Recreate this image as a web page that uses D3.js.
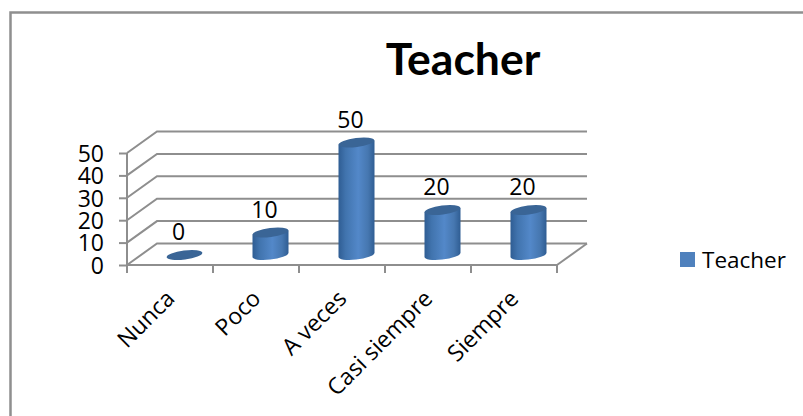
<!DOCTYPE html>
<html><head><meta charset="utf-8">
<script src="https://cdn.jsdelivr.net/npm/d3@7"></script>
<style>html,body{margin:0;padding:0;background:#fff}svg{display:block}text{font-family:"Open Sans",sans-serif;fill:#000}</style>
</head><body><svg id="c" width="803" height="416"></svg>
<script>
const categories = ["Nunca","Poco","A veces","Casi siempre","Siempre"];
const seriesName = "Teacher";
const values = [0,10,50,20,20];
const yTicks = [0,10,20,30,40,50];

const svg = d3.select("#c");
const depthX = 30, depthY = -21.5, gridCol = "#8e8e8e";
const x = d3.scaleBand().domain(categories).range([127,557]);
const y = d3.scaleLinear().domain([0,50]).range([265,153]);
const barY = d3.scaleLinear().domain([0,50]).range([255,142.5]);

const defs = svg.append("defs");
const g = defs.append("linearGradient").attr("id","cyl");
[[0,"#2f5d93"],[.2,"#4174ae"],[.55,"#5388c9"],[.82,"#4677b0"],[1,"#2f5d93"]]
  .forEach(([o,c])=>g.append("stop").attr("offset",o).attr("stop-color",c));

// outer chart frame
svg.append("path").attr("d","M10.5,416V12.5H803").attr("fill","none").attr("stroke","#8f8f8f").attr("stroke-width",2.5);

// walls
const grid = svg.append("g").attr("fill","none").attr("stroke",gridCol).attr("stroke-width",2);
yTicks.forEach(t=>{
  grid.append("path").attr("d",d3.line()([[x.range()[0],y(t)],[x.range()[0]+depthX,y(t)+depthY],[x.range()[1]+depthX,y(t)+depthY]]));
});
grid.append("path").attr("d",d3.line()([[x.range()[1],y(0)],[x.range()[1]+depthX,y(0)+depthY]]));

// y axis
const ay = svg.append("g").attr("transform",`translate(${x.range()[0]},0)`)
  .call(d3.axisLeft(y).tickValues(yTicks).tickSize(8).tickPadding(15));
ay.selectAll("path,line").attr("stroke",gridCol).attr("stroke-width",2);
ay.select(".domain").attr("d",`M0,${y(50)}V${y(0)}`);
ay.selectAll("text").attr("font-size",23).attr("dy","0.36em").style("font-family",'"Open Sans",sans-serif');

// x axis
const ax = svg.append("g").attr("transform",`translate(0,${y(0)})`)
  .call(d3.axisBottom(x).tickSize(0).tickFormat(""));
ax.select(".domain").attr("d",`M${x.range()[0]},0H${x.range()[1]}`).attr("stroke",gridCol).attr("stroke-width",2);
const edges = categories.map(c=>x(c)).concat(x.range()[1]);
ax.selectAll("line.edge").data(edges).join("line").attr("class","edge")
  .attr("x1",d=>d).attr("x2",d=>d).attr("y1",0).attr("y2",8).attr("stroke",gridCol).attr("stroke-width",2);
ax.selectAll("text.cat").data(categories).join("text").attr("class","cat")
  .attr("text-anchor","end").attr("font-size",23)
  .attr("transform",d=>`translate(${x(d)+x.bandwidth()/2+6},${35}) rotate(-45)`)
  .style("font-family",'"Open Sans",sans-serif')
  .text(d=>d);

// cylinders
const rx = 18, ry = 4.5, tilt = -7;
const bw = x.bandwidth();
const bars = svg.append("g");
categories.forEach((c,i)=>{
  const cx = x(c)+bw/2+14.5, yb = barY(0), yt = barY(values[i]);
  if(values[i]>0){
    bars.append("path").attr("fill","url(#cyl)")
      .attr("d",`M${cx-rx},${yt+2}L${cx-rx},${yb+2}A${rx},${ry} ${tilt} 0 0 ${cx+rx},${yb-2}L${cx+rx},${yt-2}Z`);
  }
  bars.append("ellipse").attr("cx",cx).attr("cy",yt).attr("rx",rx).attr("ry",ry)
    .attr("fill","#3a6596").attr("transform",`rotate(${tilt} ${cx} ${yt})`);
  svg.append("text").attr("x",cx-6).attr("y",yt-23).attr("dy","0.36em")
    .attr("text-anchor","middle").attr("font-size",23).text(values[i]);
});

// title
svg.append("text").attr("x",463).attr("y",75).attr("text-anchor","middle")
  .style("font-family","Lato,sans-serif")
  .attr("font-size",44.5).attr("font-weight",700).text(seriesName);

// legend
svg.append("rect").attr("x",680).attr("y",252).attr("width",15).attr("height",15).attr("fill","#4f81bd");
svg.append("text").attr("x",702).attr("y",268).attr("font-size",22.5).text(seriesName);
</script></body></html>
